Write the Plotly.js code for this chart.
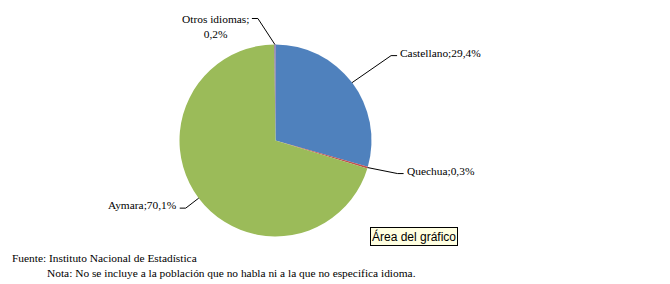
<!DOCTYPE html>
<html>
<head>
<meta charset="utf-8">
<script src="https://cdn.plot.ly/plotly-3.0.1.min.js"></script>
<style>html,body{margin:0;padding:0;background:#fff;}#chart{width:670px;height:284px;}</style>
</head>
<body>
<div id="chart"></div>
<script>
// Data
const categories = ["Castellano", "Quechua", "Aymara", "Otros idiomas"];
const values = [29.4, 0.3, 70.1, 0.2];
const valueLabels = ["29,4%", "0,3%", "70,1%", "0,2%"];
const colors = ["#4F81BD", "#C0504D", "#9BBB59", "#8064A2"];

// Layout geometry (pixels)
const W = 670, H = 284;
const cx = 275.5, cy = 140.5, R = 96;
const elbow = [[39, -27, 1], [30, 6, 1], [-13, 10, -1], [-17, -26, -1]];
const tickLen = 6;
const SERIF = "Liberation Serif";
const FS = 11.4;

const px = x => x / W;
const py = y => 1 - y / H;

const total = values.reduce((a, b) => a + b, 0);
let cum = 0;
const shapes = [];
const annotations = [];
values.forEach((v, i) => {
  const mid = (cum + v / 2) / total * 2 * Math.PI;
  cum += v;
  const ex = cx + R * Math.sin(mid);
  const ey = cy - R * Math.cos(mid);
  const [dx, dy, side] = elbow[i];
  const bx = ex + dx, by = ey + dy;
  const tx = bx + side * tickLen;
  shapes.push({
    type: "path", xref: "paper", yref: "paper",
    path: `M ${px(ex)} ${py(ey)} L ${px(bx)} ${py(by)} L ${px(tx)} ${py(by)}`,
    line: {color: "#000", width: 1}
  });
  const isTwoLine = categories[i] === "Otros idiomas";
  annotations.push({
    xref: "paper", yref: "paper",
    x: px(tx + side * 1), y: isTwoLine ? py(by - 8) : py(by - 3),
    xanchor: side > 0 ? "left" : "right",
    yanchor: isTwoLine ? "top" : "middle",
    align: "center",
    text: isTwoLine ? categories[i] + ";<br>" + valueLabels[i] : categories[i] + ";" + valueLabels[i],
    showarrow: false,
    font: {family: SERIF, size: FS, color: "#000"}
  });
});

annotations.push({
  xref: "paper", yref: "paper", x: px(10), y: py(258), xanchor: "left", yanchor: "middle",
  text: "Fuente: Instituto Nacional de Estadística", showarrow: false,
  font: {family: SERIF, size: FS, color: "#000"}
});
annotations.push({
  xref: "paper", yref: "paper", x: px(45), y: py(273), xanchor: "left", yanchor: "middle",
  text: "Nota: No se incluye a la población que no habla ni a la que no especifica idioma.", showarrow: false,
  font: {family: SERIF, size: FS, color: "#000"}
});
annotations.push({
  xref: "paper", yref: "paper", x: px(370), y: py(236.5), xanchor: "left", yanchor: "middle",
  text: "Área del gráfico", showarrow: false,
  bgcolor: "#FFFFE1", bordercolor: "#000", borderwidth: 1, borderpad: 1,
  font: {family: "Liberation Sans", size: 12, color: "#000"}
});

const trace = {
  type: "pie",
  labels: categories,
  values: values,
  sort: false,
  direction: "clockwise",
  rotation: 0,
  marker: {colors: colors, line: {width: 0}},
  textinfo: "none",
  hoverinfo: "none",
  showlegend: false,
  domain: {x: [px(cx - R), px(cx + R)], y: [py(cy + R), py(cy - R)]}
};

const layout = {
  width: W, height: H,
  margin: {l: 0, r: 0, t: 0, b: 0},
  paper_bgcolor: "#fff",
  showlegend: false,
  font: {family: SERIF},
  shapes: shapes,
  annotations: annotations
};

Plotly.newPlot("chart", [trace], layout, {displayModeBar: false, staticPlot: true});
</script>
</body>
</html>
